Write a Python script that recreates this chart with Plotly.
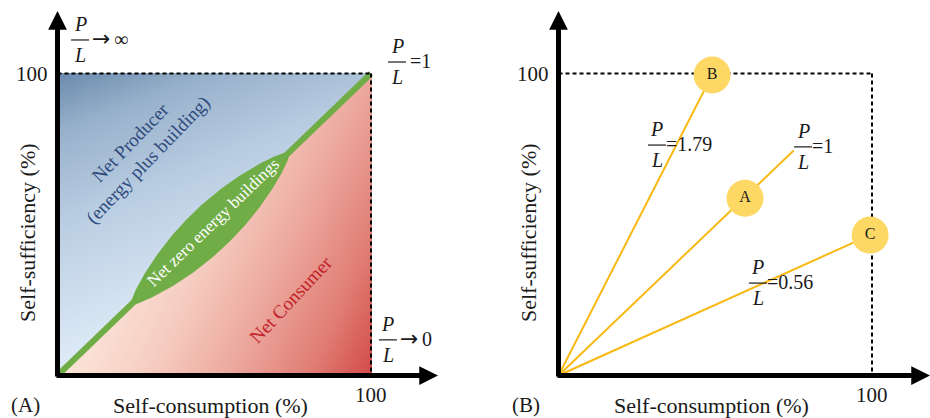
import numpy as np
import plotly.graph_objects as go

# ---------------- data ----------------
axis_max = 100
tick_label = "100"
x_title = "Self-consumption (%)"
y_title = "Self-sufficiency (%)"
panel_tags = ["(A)", "(B)"]

# Panel (A): region labels (data coordinates)
region_text = ["Net Producer<br>(energy plus building)", "Net zero energy buildings", "Net Consumer"]
region_x = [26.2, 49.6, 74.4]
region_y = [74.2, 50.8, 25.3]

# Panel (A): P/L limit annotations
a_ratio_suffix = ["→ ∞", "=1", "→0"]
a_ratio_x = [7.2, 108.3, 105.4]
a_ratio_y = [111.1, 103.8, 11.8]

# Panel (B): operating points and P/L rays
point_labels = ["B", "A", "C"]
point_x = [49.0, 59.5, 99.4]
point_y = [99.5, 58.7, 46.5]
ray_end_x = [49.0, 75.0, 99.4]
ray_end_y = [99.5, 74.5, 46.5]
b_ratio_suffix = ["=1.79", "=1", "=0.56"]
b_ratio_x = [31.4, 78.0, 63.6]
b_ratio_y = [76.3, 75.7, 30.6]

# net-zero lens along the diagonal (data units)
lens_start, lens_end, lens_halfwidth = 23.5, 74.0, 5.3

# ---------------- styling / geometry ----------------
FONT = "Liberation Serif"
TXT = "#1a1a1a"
W, H = 930, 418
PX_X, PX_Y = 3.135, 3.02
A_ORIGIN_X, B_ORIGIN_X, ORIGIN_Y = 57.5, 558.5, 375.5
SPLIT = 465
GREEN = "#70ad47"
RAY = "#f8b912"
DOT = "#fdd865"

region_angle = [-46, -44, -47]
region_color = ["#2f4b7c", "#ffffff", "#c0232a"]
region_size = [19, 17, 19]

fig = go.Figure()

# ---- Panel A background gradients (masked triangles) ----
g = np.linspace(0, axis_max, 301)
GX, GY = np.meshgrid(g, g)
blue = np.clip((GY - 0.4 * GX) / axis_max, 0, 1)
blue = np.where(GY >= GX - 0.2, blue, np.nan)
red = np.clip((GX - 0.45 * GY) / axis_max, 0, 1)
red = np.where(GY <= GX + 0.2, red, np.nan)

fig.add_trace(go.Heatmap(x=g, y=g, z=blue, zmin=0, zmax=1, showscale=False, hoverinfo="skip",
                         colorscale=[[0, "#e1ecf8"], [0.5, "#b9cde2"], [0.8, "#98b1cb"], [1, "#6a8aad"]],
                         xaxis="x", yaxis="y"))
fig.add_trace(go.Heatmap(x=g, y=g, z=red, zmin=0, zmax=1, showscale=False, hoverinfo="skip",
                         colorscale=[[0, "#fce6da"], [0.3, "#f6cbbf"], [0.55, "#eca79d"], [0.8, "#e07d74"], [1, "#d24a48"]],
                         xaxis="x", yaxis="y"))

# ---- net-zero lens and diagonal ----
u = np.linspace(0, 1, 200)
t = lens_start + (lens_end - lens_start) * u
w = lens_halfwidth * np.sin(np.pi * u) ** 0.7
lx = np.concatenate([t - w, (t + w)[::-1]])
ly = np.concatenate([t + w, (t - w)[::-1]])
fig.add_trace(go.Scatter(x=lx, y=ly, fill="toself", fillcolor=GREEN, line=dict(width=0), mode="lines",
                         hoverinfo="skip", showlegend=False, xaxis="x", yaxis="y"))
fig.add_trace(go.Scatter(x=[0, axis_max], y=[0, axis_max], mode="lines", line=dict(color=GREEN, width=6),
                         hoverinfo="skip", showlegend=False, xaxis="x", yaxis="y"))

# ---- Panel B rays and points ----
for ex, ey in zip(ray_end_x, ray_end_y):
    fig.add_trace(go.Scatter(x=[0, ex], y=[0, ey], mode="lines", line=dict(color=RAY, width=2),
                             hoverinfo="skip", showlegend=False, xaxis="x2", yaxis="y2"))
fig.add_trace(go.Scatter(x=point_x, y=point_y, mode="markers+text", text=point_labels,
                         textposition="middle center",
                         textfont=dict(family=FONT, size=16, color=TXT),
                         marker=dict(size=37, color=DOT, line=dict(width=0)),
                         hoverinfo="skip", showlegend=False, xaxis="x2", yaxis="y2"))

shapes = []
annotations = []

def dashed_box(xr, yr, layer):
    for (x0, y0, x1, y1) in [(0, axis_max, axis_max, axis_max), (axis_max, axis_max, axis_max, 0)]:
        shapes.append(dict(type="line", xref=xr, yref=yr, x0=x0, y0=y0, x1=x1, y1=y1, layer=layer,
                           line=dict(color="black", width=2, dash="4px,3px")))

def arrows(xr, yr, x_tip, y_tip):
    for (tx, ty, sx, sy) in [(x_tip, 0, -0.8, 0), (0, y_tip, 0, -0.8)]:
        annotations.append(dict(x=tx, y=ty, ax=sx, ay=sy, xref=xr, yref=yr, axref=xr, ayref=yr,
                                text="", showarrow=True, arrowhead=2, arrowsize=0.75, arrowwidth=5,
                                arrowcolor="black", standoff=0, startstandoff=0))

def fraction(xr, yr, x, y, suffix, sdx):
    f = dict(family=FONT, size=20, color=TXT)
    annotations.append(dict(x=x, y=y, xref=xr, yref=yr, text="<i>P</i>", showarrow=False, yshift=16, font=f))
    annotations.append(dict(x=x, y=y, xref=xr, yref=yr, text="<i>L</i>", showarrow=False, yshift=-15, font=f))
    shapes.append(dict(type="line", xref=xr, yref=yr, xsizemode="pixel", xanchor=x, x0=-9, x1=9,
                       ysizemode="pixel", yanchor=y, y0=0, y1=0, line=dict(color=TXT, width=1.2), layer="above"))
    if suffix.startswith("→"):
        annotations.append(dict(x=x, y=y, xref=xr, yref=yr, text="→", showarrow=False, xanchor="left",
                                xshift=sdx - 1, yshift=1, font=dict(family="DejaVu Sans", size=22, color=TXT)))
        annotations.append(dict(x=x, y=y, xref=xr, yref=yr, text=suffix[1:].strip(), showarrow=False,
                                xanchor="left", xshift=sdx + 21, yshift=1, font=f))
    else:
        annotations.append(dict(x=x, y=y, xref=xr, yref=yr, text=suffix, showarrow=False, xanchor="left",
                                xshift=sdx, yshift=1, font=f))

def texts(xr, yr, tag):
    f = dict(family=FONT, size=21, color=TXT)
    annotations.append(dict(x=-8 / PX_X, y=axis_max, xref=xr, yref=yr, text=tick_label,
                            showarrow=False, xanchor="right", font=f))
    annotations.append(dict(x=axis_max, y=-6.5, xref=xr, yref=yr, text=tick_label, showarrow=False, font=f))
    annotations.append(dict(x=(210 - 57.5) / PX_X, y=-9.8, xref=xr, yref=yr, text=x_title, showarrow=False,
                            font=dict(family=FONT, size=22, color=TXT)))
    annotations.append(dict(x=(27 - 57.5) / PX_X, y=(ORIGIN_Y - 233) / PX_Y, xref=xr, yref=yr, text=y_title,
                            showarrow=False, textangle=-90, font=dict(family=FONT, size=22, color=TXT)))
    annotations.append(dict(x=(25 - 57.5) / PX_X, y=-9.8, xref=xr, yref=yr, text=tag, showarrow=False,
                            font=dict(family=FONT, size=21, color=TXT)))

# Panel A
dashed_box("x", "y", "above")
arrows("x", "y", (438 - A_ORIGIN_X) / PX_X, (ORIGIN_Y - 11) / PX_Y)
for s, x, y in zip(a_ratio_suffix, a_ratio_x, a_ratio_y):
    fraction("x", "y", x, y, s, 11)
texts("x", "y", panel_tags[0])
for txt, x, y, ang, col, sz in zip(region_text, region_x, region_y, region_angle, region_color, region_size):
    annotations.append(dict(x=x, y=y, xref="x", yref="y", text=txt, showarrow=False, textangle=ang,
                            font=dict(family=FONT, size=sz, color=col)))

# Panel B
dashed_box("x2", "y2", "below")
arrows("x2", "y2", (930 - B_ORIGIN_X) / PX_X, (ORIGIN_Y - 11) / PX_Y)
for s, x, y in zip(b_ratio_suffix, b_ratio_x, b_ratio_y):
    fraction("x2", "y2", x, y, s, 7)
texts("x2", "y2", panel_tags[1])

yr = [(ORIGIN_Y - H) / PX_Y, ORIGIN_Y / PX_Y]
fig.update_layout(
    width=W, height=H, margin=dict(l=0, r=0, t=0, b=0),
    paper_bgcolor="white", plot_bgcolor="white",
    font=dict(family=FONT, color=TXT),
    showlegend=False,
    xaxis=dict(domain=[0, SPLIT / W], range=[-A_ORIGIN_X / PX_X, (SPLIT - A_ORIGIN_X) / PX_X],
               visible=False, anchor="y"),
    yaxis=dict(domain=[0, 1], range=yr, visible=False, anchor="x"),
    xaxis2=dict(domain=[SPLIT / W, 1], range=[(SPLIT - B_ORIGIN_X) / PX_X, (W - B_ORIGIN_X) / PX_X],
                visible=False, anchor="y2"),
    yaxis2=dict(domain=[0, 1], range=yr, visible=False, anchor="x2"),
    shapes=shapes, annotations=annotations,
)

fig.write_html("out.html", config={"displayModeBar": False},
               post_script="document.body.style.margin='0';document.body.style.overflow='hidden';")
